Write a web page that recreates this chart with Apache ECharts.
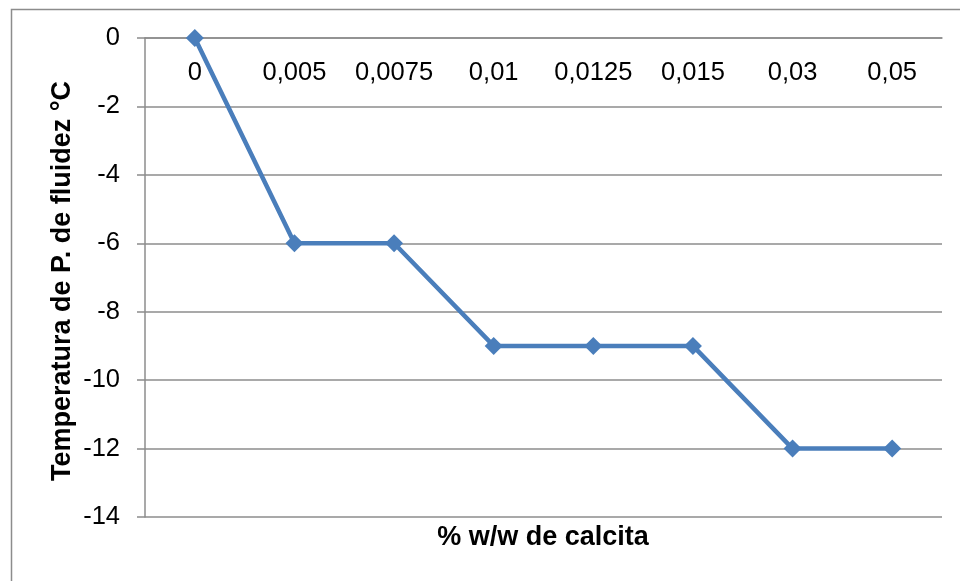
<!DOCTYPE html>
<html>
<head>
<meta charset="utf-8">
<script src="https://cdn.jsdelivr.net/npm/echarts@6/dist/echarts.min.js"></script>
<style>html,body{margin:0;padding:0;background:#fff}#c{width:960px;height:581px}</style>
</head>
<body>
<div id="c"></div>
<script>
var categories = ['0', '0,005', '0,0075', '0,01', '0,0125', '0,015', '0,03', '0,05'];
var temperatures = [0, -6, -6, -9, -9, -9, -12, -12];
var yTicks = { min: -14, max: 0, interval: 2 };
var xName = '% w/w de calcita';
var yName = 'Temperatura de P. de fluidez °C';

var chart = echarts.init(document.getElementById('c'));
var FONT = '"Liberation Sans", Arial, sans-serif';
chart.setOption({
  animation: false,
  grid: { left: 145, right: 18, top: 38, bottom: 64 },
  graphic: [
    { type: 'rect', shape: { x: 11.5, y: 9.5, width: 1000, height: 1000 }, style: { fill: 'none', stroke: '#8c8c8c', lineWidth: 1.5 }, z: -1 },
    { type: 'text', x: 543, y: 538, style: { text: xName, font: 'bold 27px ' + FONT, fill: '#000', textAlign: 'center', textVerticalAlign: 'middle' } },
    { type: 'text', x: 63, y: 281, rotation: Math.PI / 2, style: { text: yName, font: 'bold 27px ' + FONT, fill: '#000', textAlign: 'center', textVerticalAlign: 'middle' } }
  ],
  xAxis: {
    type: 'category',
    data: categories,
    boundaryGap: true,
    position: 'top',
    axisLine: { show: true, lineStyle: { color: '#8c8c8c', width: 1.5 } },
    axisTick: { show: false },
    axisLabel: { inside: true, interval: 0, hideOverlap: false, margin: 22, color: '#000', fontSize: 25.5, fontFamily: FONT },
    splitLine: { show: false }
  },
  yAxis: {
    type: 'value',
    min: yTicks.min, max: yTicks.max, interval: yTicks.interval,
    axisLine: { show: true, lineStyle: { color: '#8c8c8c', width: 1.5 } },
    axisTick: { show: true, inside: false, length: 8, lineStyle: { color: '#8c8c8c', width: 1.5 } },
    axisLabel: { margin: 25, color: '#000', fontSize: 25.5, fontFamily: FONT },
    splitLine: { show: true, lineStyle: { color: '#8c8c8c', width: 1.5 } }
  },
  series: [{
    type: 'line',
    data: temperatures,
    symbol: 'diamond',
    symbolSize: 18,
    itemStyle: { color: '#4a7ebb' },
    lineStyle: { color: '#4a7ebb', width: 4.5 },
    z: 5
  }]
});
</script>
</body>
</html>
